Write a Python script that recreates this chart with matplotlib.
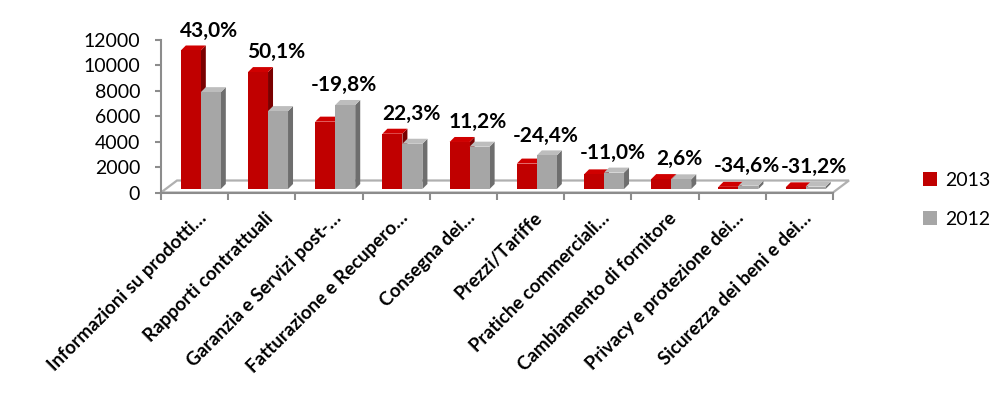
import matplotlib
matplotlib.use("Agg")
import matplotlib.pyplot as plt
from matplotlib.patches import Polygon
import matplotlib.transforms as mtransforms
import numpy as np

categories = [
    "Informazioni su prodotti…",
    "Rapporti contrattuali",
    "Garanzia e Servizi post-…",
    "Fatturazione e Recupero…",
    "Consegna dei…",
    "Prezzi/Tariffe",
    "Pratiche commerciali…",
    "Cambiamento di fornitore",
    "Privacy e protezione dei…",
    "Sicurezza dei beni e dei…",
]
values_2013 = [10900, 9200, 5300, 4350, 3700, 2000, 1150, 780, 170, 130]
values_2012 = [7620, 6130, 6610, 3560, 3330, 2645, 1290, 760, 260, 190]
pct_labels = ["43,0%", "50,1%", "-19,8%", "22,3%", "11,2%", "-24,4%",
              "-11,0%", "2,6%", "-34,6%", "-31,2%"]
yticks = [0, 2000, 4000, 6000, 8000, 10000, 12000]
series_names = ["2013", "2012"]

plt.rcParams['font.family'] = ['Lato', 'DejaVu Sans']

W, H = 1000, 395
fig = plt.figure(figsize=(W / 100, H / 100), dpi=100)
x0, x1 = 161, 833
y0, y1 = 192.5, 40
ax = fig.add_axes([x0 / W, (H - y0) / H, (x1 - x0) / W, (y0 - y1) / H])
n = len(categories)
ax.set_xlim(-0.5, n - 0.5)
ax.set_ylim(0, 12000)

px_x = n / (x1 - x0)
px_y = 12000 / (y0 - y1)

axis_col = "#8C8C8C"
fdx, fdy = 16 * px_x, 12 * px_y
floor = Polygon([(-0.5, 0), (n - 0.5, 0), (n - 0.5 + fdx, fdy), (-0.5 + fdx, fdy)],
                closed=True, facecolor="white", edgecolor="#B0B0B0", lw=1.6,
                clip_on=False, zorder=1)
ax.add_patch(floor)

front_cols = ["#C00000", "#A6A6A6"]
side_cols = ["#7A0000", "#6E6E6E"]
top_cols = ["#D00000", "#BDBDBD"]

bw = 20 * px_x
bdx, bdy = 5 * px_x, 5 * px_y
base = 3.5 * px_y
offsets = [-0.205, -0.205 + bw]

for s, vals in enumerate([values_2013, values_2012]):
    lefts = np.arange(n) + offsets[s]
    bars = ax.bar(lefts, vals, width=bw, bottom=base, align="edge",
                  color=front_cols[s], edgecolor="none", zorder=3 + s * 0.1,
                  label=series_names[s])
    for b in bars:
        xl = b.get_x()
        xr = xl + b.get_width()
        yb = b.get_y()
        yt = yb + b.get_height()
        side = Polygon([(xr, yb), (xr + bdx, yb + bdy), (xr + bdx, yt + bdy), (xr, yt)],
                       closed=True, facecolor=side_cols[s], edgecolor="none",
                       zorder=2.9 + s * 0.1, clip_on=False)
        top = Polygon([(xl, yt), (xr, yt), (xr + bdx, yt + bdy), (xl + bdx, yt + bdy)],
                      closed=True, facecolor=top_cols[s], edgecolor="none",
                      zorder=2.9 + s * 0.1, clip_on=False)
        ax.add_patch(side)
        ax.add_patch(top)

for i, lab in enumerate(pct_labels):
    top = max(values_2013[i], values_2012[i])
    ax.annotate(lab, (i + 0.22, top + base), xytext=(0, 7), textcoords="offset points",
                ha="center", va="bottom", fontsize=15, fontweight="bold",
                color="black", zorder=6)

for sp in ["top", "right"]:
    ax.spines[sp].set_visible(False)
ax.spines["left"].set_color(axis_col)
ax.spines["bottom"].set_color(axis_col)
ax.spines["left"].set_linewidth(1.5)
ax.spines["bottom"].set_linewidth(1.5)
ax.spines["bottom"].set_zorder(2)
ax.set_yticks(yticks)
ax.set_yticklabels([str(v) for v in yticks], fontsize=14)
ax.tick_params(axis="y", length=4, width=1.5, color=axis_col, pad=11)
ax.set_xticks(np.arange(n))
ax.set_xticklabels(categories, rotation=45, ha="right", va="top",
                   rotation_mode="anchor", fontsize=13.5, fontweight="bold")
ax.tick_params(axis="x", length=0, pad=12)
ax.set_xticks(np.arange(n + 1) - 0.5, minor=True)
ax.tick_params(axis="x", which="minor", length=5, width=1.5, color=axis_col)
offset = mtransforms.ScaledTranslation(3 / 100, 0, fig.dpi_scale_trans)
for lbl in ax.get_xticklabels():
    lbl.set_transform(lbl.get_transform() + offset)

ax.legend(loc="upper left", bbox_to_anchor=(905 / W, (H - 154) / H),
          bbox_transform=fig.transFigure, frameon=False, fontsize=14,
          handlelength=0.75, handleheight=0.75, handletextpad=0.4,
          labelspacing=1.15)

fig.savefig("out.png", dpi=100)
